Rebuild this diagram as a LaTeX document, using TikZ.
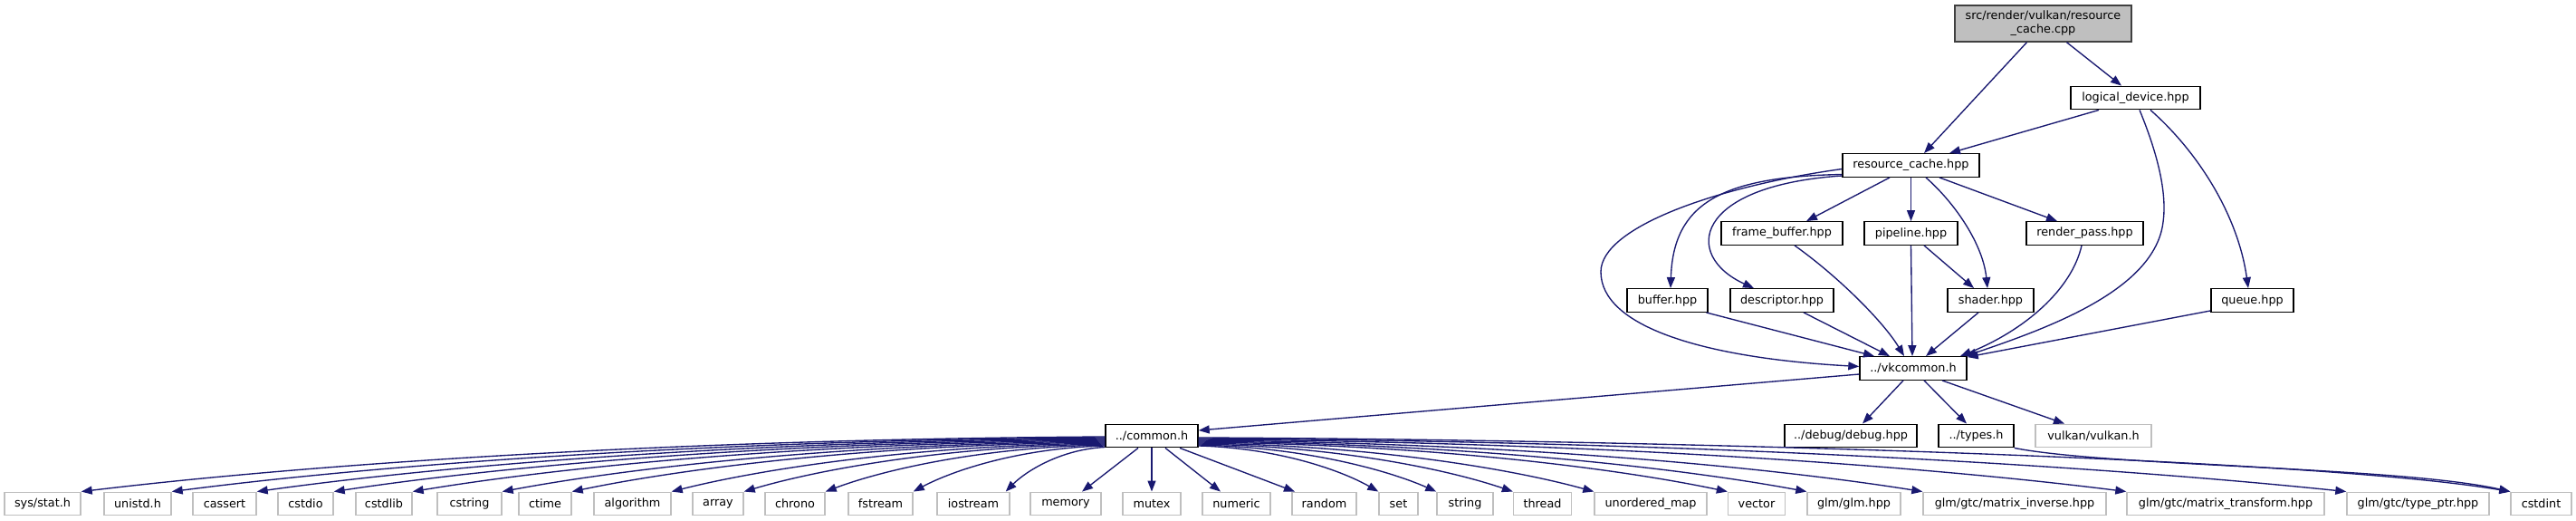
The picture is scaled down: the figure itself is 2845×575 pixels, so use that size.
\documentclass[tikz,border=0pt]{standalone}
\usepackage{fontspec}
\setmainfont{DejaVu Sans}
\usetikzlibrary{arrows.meta,calc}
\definecolor{edgeblue}{RGB}{25,25,112}
\definecolor{extgray}{RGB}{191,191,191}
\definecolor{rootborder}{RGB}{64,64,64}
\newcommand\fanedge[2]{\draw[edge] let \p1=(#1), \p2=(#2) in (\p1) .. controls ({\x1+0.45*(\x2-\x1)},{\y1+0.05*(\y2-\y1)}) and ({\x1+0.8*(\x2-\x1)},{\y1+0.55*(\y2-\y1)}) .. (\p2);}
\begin{document}
\begin{tikzpicture}[x=1pt,y=-1pt,
  box/.style={rectangle, line width=1.4pt, minimum height=25.5pt, inner xsep=2pt, inner ysep=0pt, font=\fontsize{12.8}{15}\selectfont, fill=white},
  docbox/.style={box, draw=black},
  extbox/.style={box, draw=extgray},
  rootbox/.style={box, draw=rootborder, fill=extgray, align=center, minimum height=40pt},
  edge/.style={draw=edgeblue, line width=1.35pt, -{Triangle[length=12pt,width=9pt]}}]
\useasboundingbox (0,0) rectangle (2845,575);
\fill[white] (0,0) rectangle (2845,575);
% upper part
\node[rootbox, minimum width=195pt] (root) at (2256.5,26) {src/render/vulkan/resource\\\_cache.cpp};
\node[docbox, minimum width=143pt] (ld) at (2358.5,108) {logical\_device.hpp};
\node[docbox, minimum width=151pt] (rc) at (2110.5,182.5) {resource\_cache.hpp};
\node[docbox, minimum width=134pt] (fb) at (1968,257.5) {frame\_buffer.hpp};
\node[docbox, minimum width=103pt] (pipe) at (2110.5,257.5) {pipeline.hpp};
\node[docbox, minimum width=129pt] (rp) at (2302.5,257.5) {render\_pass.hpp};
\node[docbox, minimum width=89pt] (buf) at (1841.5,331.5) {buffer.hpp};
\node[docbox, minimum width=114pt] (desc) at (1968,331.5) {descriptor.hpp};
\node[docbox, minimum width=95pt] (shader) at (2198.5,331.5) {shader.hpp};
\node[docbox, minimum width=91pt] (queue) at (2487.5,331.5) {queue.hpp};
\node[docbox, minimum width=118pt] (vk) at (2113,406.5) {../vkcommon.h};
\node[docbox, minimum width=102pt] (common) at (1272,481) {../common.h};
\node[docbox, minimum width=146pt] (debug) at (2044,481) {../debug/debug.hpp};
\node[docbox, minimum width=83pt] (types) at (2182.5,481) {../types.h};
\node[extbox, minimum width=128pt] (vulkan) at (2312,481) {vulkan/vulkan.h};
% bottom row
\node[extbox, minimum width=84pt] (sysstat) at (47,556) {sys/stat.h};
\node[extbox, minimum width=74pt] (unistd) at (152,556) {unistd.h};
\node[extbox, minimum width=70pt] (cassert) at (248,556) {cassert};
\node[extbox, minimum width=61pt] (cstdio) at (337.5,556) {cstdio};
\node[extbox, minimum width=62pt] (cstdlib) at (424,556) {cstdlib};
\node[extbox, minimum width=71pt] (cstring) at (518.5,556) {cstring};
\node[extbox, minimum width=58pt] (ctime) at (602,556) {ctime};
\node[extbox, minimum width=85pt] (algorithm) at (698.5,556) {algorithm};
\node[extbox, minimum width=56pt] (array) at (793,556) {array};
\node[extbox, minimum width=66pt] (chrono) at (878,556) {chrono};
\node[extbox, minimum width=71pt] (fstream) at (972.5,556) {fstream};
\node[extbox, minimum width=80pt] (iostream) at (1075,556) {iostream};
\node[extbox, minimum width=78pt] (memory) at (1177,556) {memory};
\node[extbox, minimum width=64pt] (mutex) at (1272,556) {mutex};
\node[extbox, minimum width=75pt] (numeric) at (1365.5,556) {numeric};
\node[extbox, minimum width=71pt] (random) at (1462.5,556) {random};
\node[extbox, minimum width=43pt] (set) at (1544.5,556) {set};
\node[extbox, minimum width=62pt] (string) at (1618,556) {string};
\node[extbox, minimum width=64pt] (thread) at (1703.5,556) {thread};
\node[extbox, minimum width=124pt] (umap) at (1823,556) {unordered\_map};
\node[extbox, minimum width=63pt] (vector) at (1940,556) {vector};
\node[extbox, minimum width=103pt] (glm) at (2047.5,556) {glm/glm.hpp};
\node[extbox, minimum width=202pt] (minv) at (2225,556) {glm/gtc/matrix\_inverse.hpp};
\node[extbox, minimum width=218pt] (mtrans) at (2458,556) {glm/gtc/matrix\_transform.hpp};
\node[extbox, minimum width=157pt] (tptr) at (2670.5,556) {glm/gtc/type\_ptr.hpp};
\node[extbox, minimum width=67pt] (cstdint) at (2806.5,556) {cstdint};
% edges upper
\draw[edge] ($(root.south)+(-18,0)$) -- ($(rc.north)+(14.5,0)$);
\draw[edge] ($(root.south)+(26,0)$) -- ($(ld.north)+(-15.5,0)$);
\draw[edge] ($(ld.south)+(-40.5,0)$) -- ($(rc.north)+(42.5,0)$);
\draw[edge] ($(ld.south)+(4.5,0)$) .. controls (2385,175) and (2393,215) .. (2389,245) .. controls (2380,320) and (2262,362) .. ($(vk.north east)+(-2,0)$);
\draw[edge] ($(ld.south)+(16.5,0)$) .. controls (2430,170) and (2472,240) .. ($(queue.north)+(-4.5,0)$);
\draw[edge] ($(rc.south)+(-23.5,0)$) -- ($(fb.north)+(27,0)$);
\draw[edge] (rc.south) -- (pipe.north);
\draw[edge] ($(rc.south)+(31.5,0)$) -- ($(rp.north)+(-30.5,0)$);
\draw[edge] ($(rc.south)+(16.5,0)$) .. controls (2160,225) and (2190,270) .. ($(shader.north)+(-3.5,0)$);
\draw[edge] ($(rc.west)+(0,10)$) .. controls (1900,195) and (1848,225) .. ($(buf.north)+(3.5,0)$);
\draw[edge] ($(rc.west)+(0,11.5)$) .. controls (1870,205) and (1858,282) .. ($(desc.north)+(-31,0)$);
\draw[edge] ($(rc.west)+(0,4)$) .. controls (1900,205) and (1768,250) .. (1768,300) .. controls (1768,360) and (1880,395) .. ($(vk.west)+(0,-2)$);
\draw[edge] ($(fb.south)+(14,0)$) .. controls (2030,305) and (2080,355) .. ($(vk.north)+(-10,0)$);
\draw[edge] (pipe.south) -- ($(vk.north)+(-1,0)$);
\draw[edge] ($(pipe.south)+(14.5,0)$) -- ($(shader.north)+(-18.5,0)$);
\draw[edge] ($(buf.south)+(43,0)$) -- ($(vk.north)+(-43,0)$);
\draw[edge] ($(desc.south)+(24,0)$) -- ($(vk.north)+(-26,0)$);
\draw[edge] ($(shader.south)+(-13.5,0)$) -- ($(vk.north)+(14,0)$);
\draw[edge] ($(rp.south)+(-3.5,0)$) .. controls (2288,320) and (2235,365) .. ($(vk.north)+(52,0)$);
\draw[edge] ($(queue.south west)+(0,-2)$) -- ($(vk.north east)+(0,1)$);
\draw[edge] ($(vk.west)+(0,6.5)$) -- ($(common.east)+(0,-6)$);
\draw[edge] ($(vk.south)+(-11,0)$) -- ($(debug.north)+(13,0)$);
\draw[edge] ($(vk.south)+(12,0)$) -- ($(types.north)+(-10.5,0)$);
\draw[edge] ($(vk.south)+(32,0)$) -- ($(vulkan.north)+(-32,0)$);
\draw[edge] (types.south east) .. controls (2330,515) and (2650,515) .. (cstdint.north west);
\draw[edge] ($(common.east)+(0,2)$) .. controls (1800,485) and (2550,505) .. (cstdint.north west);
% fan to the left
\fanedge{$(common.west)+(0,1)$}{sysstat.north east}
\fanedge{$(common.west)+(0,2)$}{unistd.north east}
\fanedge{$(common.west)+(0,3)$}{cassert.north east}
\fanedge{$(common.west)+(0,4)$}{cstdio.north east}
\fanedge{$(common.west)+(0,5)$}{cstdlib.north east}
\fanedge{$(common.west)+(0,6)$}{cstring.north east}
\fanedge{$(common.west)+(0,7)$}{ctime.north east}
\fanedge{$(common.west)+(0,8)$}{algorithm.north east}
\fanedge{$(common.west)+(0,9)$}{array.north east}
\fanedge{$(common.west)+(0,10)$}{chrono.north east}
\fanedge{$(common.west)+(0,11)$}{fstream.north east}
\fanedge{$(common.west)+(0,12.5)$}{$(iostream.north east)+(-5,0)$}
% near ones
\draw[edge] ($(common.south)+(-15,0)$) -- ($(memory.north)+(18,0)$);
\draw[edge] (common.south) -- (mutex.north);
\draw[edge] ($(common.south)+(15,0)$) -- ($(numeric.north)+(-17.5,0)$);
\draw[edge] ($(common.south)+(31,0)$) -- ($(random.north)+(-32.5,0)$);
% fan to the right
\fanedge{$(common.east)+(0,11)$}{set.north west}
\fanedge{$(common.east)+(0,10)$}{string.north west}
\fanedge{$(common.east)+(0,9)$}{thread.north west}
\fanedge{$(common.east)+(0,8)$}{umap.north west}
\fanedge{$(common.east)+(0,7)$}{vector.north west}
\fanedge{$(common.east)+(0,6)$}{glm.north west}
\fanedge{$(common.east)+(0,5)$}{minv.north west}
\fanedge{$(common.east)+(0,4)$}{mtrans.north west}
\fanedge{$(common.east)+(0,3)$}{tptr.north west}
\end{tikzpicture}
\end{document}
